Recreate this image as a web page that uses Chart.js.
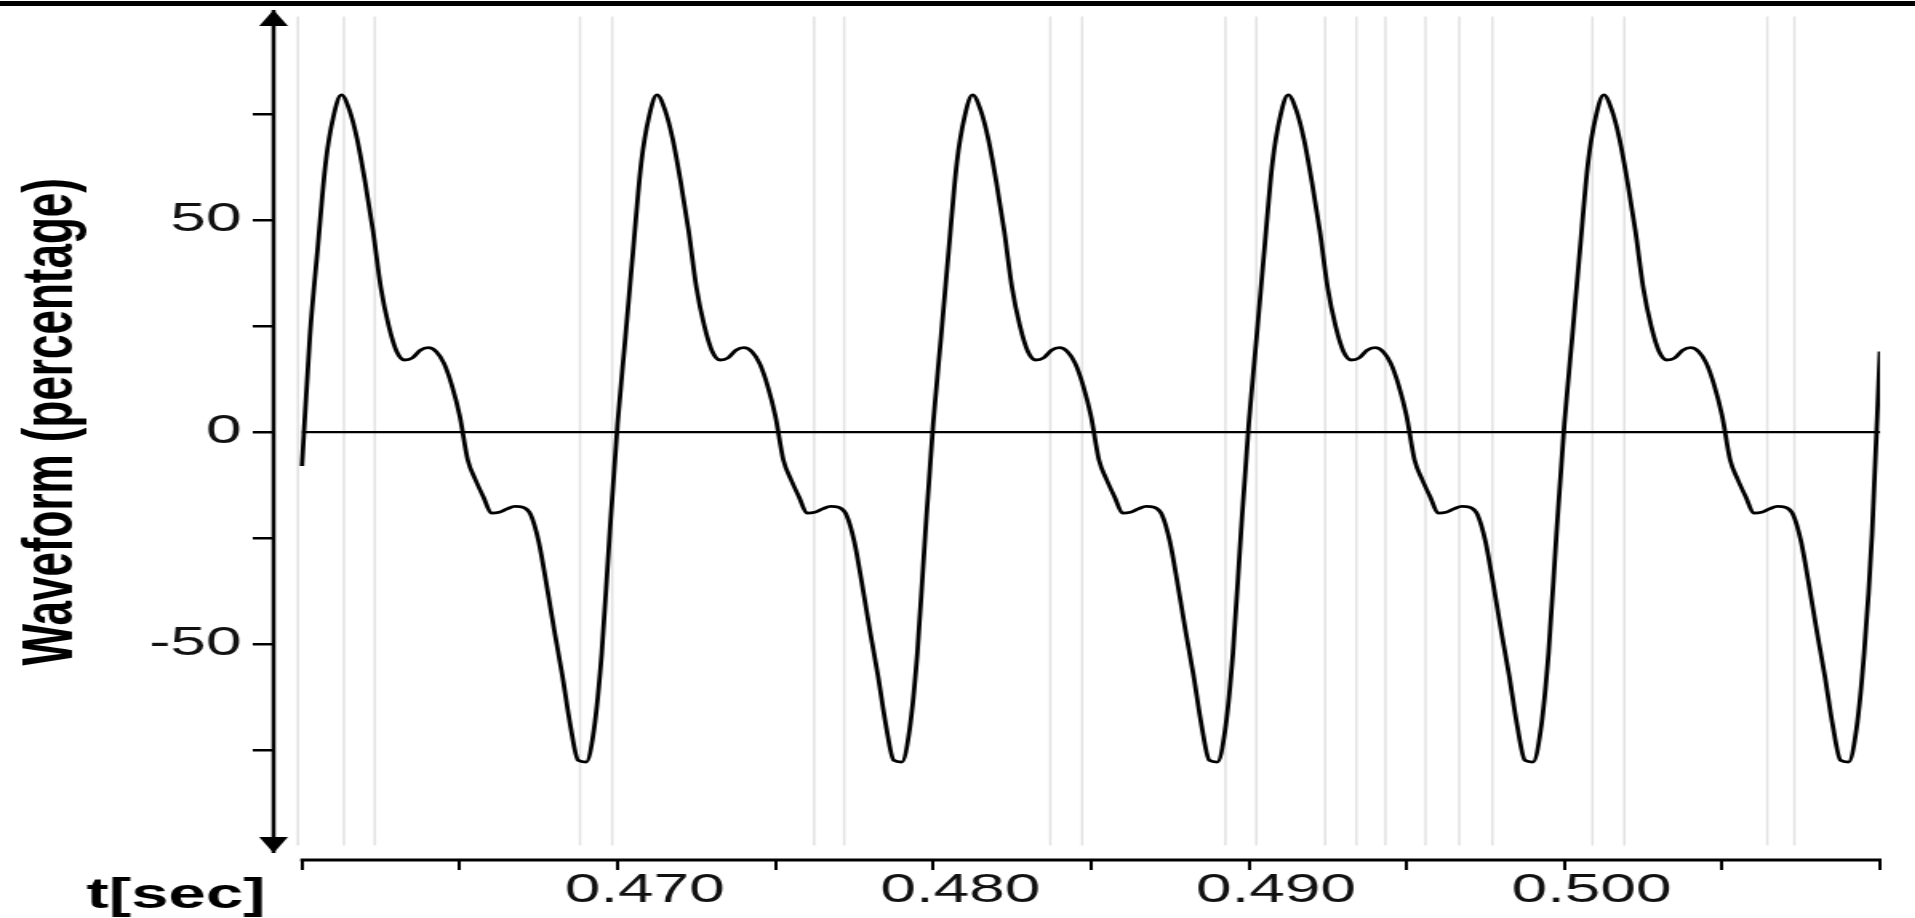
<!DOCTYPE html>
<html>
<head>
<meta charset="utf-8">
<title>Waveform (percentage)</title>
<script src="https://cdn.jsdelivr.net/npm/chart.js@4.4.1/dist/chart.umd.min.js"></script>
<style>
    html, body { margin: 0; padding: 0; background: #fff; overflow: hidden; }
    #frame { position: relative; width: 1915px; height: 918px; }
    #topline { position: absolute; left: 0; top: 1px; width: 1915px; height: 5px; background: #000; }
    /* the original picture is stretched sideways, so the chart is drawn narrow and widened */
    #chart { position: absolute; left: 0; top: 0; width: 1197px; height: 918px;
             transform-origin: 0 0; transform: scaleX(1.6); }
</style>
</head>
<body>
<div id="frame">
    <canvas id="chart" width="1197" height="918"></canvas>
    <div id="topline"></div>
</div>
<script>
// sampling of the waveform, seconds
const startTime = 0.460;
const sampleStep = 0.00025;

// one row per 10 ms cycle (percent)
const cycle1 = [-8, 22.5, 43.5, 63.5, 74.5, 79.5, 76, 69, 59, 47.5, 34, 25, 19, 17, 17.5, 19.3, 19.9, 19, 16.2, 11,
    3.8, -6.5, -11.3, -15.3, -19.1, -18.9, -18.1, -17.5, -17.7, -19.5, -25.8, -36, -47, -57.4, -69, -77.4, -77.8, -70.3, -52, -24];
const cycle2 = [2, 22.5, 43.5, 63.5, 74.5, 79.5, 76, 69, 59, 47.5, 34, 25, 19, 17, 17.5, 19.3, 19.9, 19, 16.2, 11,
    3.8, -6.5, -11.3, -15.3, -19.1, -18.9, -18.1, -17.5, -17.7, -19.5, -25.8, -36, -47, -57.4, -69, -77.4, -77.8, -70.3, -52, -24];
const cycle3 = [2, 22.5, 43.5, 63.5, 74.5, 79.5, 76, 69, 59, 47.5, 34, 25, 19, 17, 17.5, 19.3, 19.9, 19, 16.2, 11,
    3.8, -6.5, -11.3, -15.3, -19.1, -18.9, -18.1, -17.5, -17.7, -19.5, -25.8, -36, -47, -57.4, -69, -77.4, -77.8, -70.3, -52, -24];
const cycle4 = [2, 22.5, 43.5, 63.5, 74.5, 79.5, 76, 69, 59, 47.5, 34, 25, 19, 17, 17.5, 19.3, 19.9, 19, 16.2, 11,
    3.8, -6.5, -11.3, -15.3, -19.1, -18.9, -18.1, -17.5, -17.7, -19.5, -25.8, -36, -47, -57.4, -69, -77.4, -77.8, -70.3, -52, -24];
const cycle5 = [2, 22.5, 43.5, 63.5, 74.5, 79.5, 76, 69, 59, 47.5, 34, 25, 19, 17, 17.5, 19.3, 19.9, 19, 16.2, 11,
    3.8, -6.5, -11.3, -15.3, -19.1, -18.9, -18.1, -17.5, -17.7, -19.5, -25.8, -36, -47, -57.4, -69, -77.4, -77.8, -70.3, -52, -24];
const lastValue = [19];

const xTickValues = [0.460, 0.465, 0.470, 0.475, 0.480, 0.485, 0.490, 0.495, 0.500, 0.505, 0.510];
const xTickLabels = ['', '', '0.470', '', '0.480', '', '0.490', '', '0.500', '', ''];
const yTickValues = [-75, -50, -25, 0, 25, 50, 75];
const yTickLabels = ['', '-50', '', '0', '', '50', ''];

// faint grey box edges seen behind the trace (seconds)
const boxEdgeTimes = [0.45987, 0.46133, 0.46231, 0.46881, 0.46983, 0.47623, 0.47718, 0.48371, 0.48472,
    0.48926, 0.49024, 0.49242, 0.49341, 0.49433, 0.49560, 0.49667, 0.49772, 0.50089, 0.50190, 0.50643, 0.50729];

const fontFamily = '"Liberation Sans", Arial, sans-serif';

let wave = [];
[cycle1, cycle2, cycle3, cycle4, cycle5, lastValue].flat().forEach((v, i) => {
    wave.push({ x: +(startTime + i * sampleStep).toFixed(5), y: v });
});

let edges = [];
boxEdgeTimes.forEach(t => {
    edges.push({ x: t, y: 98 }, { x: t, y: -97.5 }, { x: t, y: null });
});

const zeroLine = [{ x: xTickValues[0], y: 0 }, { x: xTickValues[xTickValues.length - 1], y: 0 }];

// axis lines with arrow heads and the "t[sec]" label
const axisDecor = {
    id: 'axisDecor',
    afterDraw(chart) {
        const { ctx, chartArea, scales } = chart;
        const ax = chartArea.left;
        const top = chartArea.top + 2;
        const bot = chartArea.bottom - 7;
        ctx.save();
        ctx.strokeStyle = '#000';
        ctx.fillStyle = '#000';

        ctx.lineWidth = 2.5;
        ctx.beginPath();
        ctx.moveTo(ax, top);
        ctx.lineTo(ax, bot);
        ctx.stroke();

        ctx.beginPath();
        ctx.moveTo(ax, top);
        ctx.lineTo(ax - 9, top + 16);
        ctx.lineTo(ax + 9, top + 16);
        ctx.closePath();
        ctx.fill();

        ctx.beginPath();
        ctx.moveTo(ax, bot);
        ctx.lineTo(ax - 9, bot - 16);
        ctx.lineTo(ax + 9, bot - 16);
        ctx.closePath();
        ctx.fill();

        ctx.lineWidth = 3;
        ctx.beginPath();
        ctx.moveTo(scales.x.getPixelForValue(xTickValues[0]) - 1, chartArea.bottom);
        ctx.lineTo(scales.x.getPixelForValue(xTickValues[xTickValues.length - 1]) + 1, chartArea.bottom);
        ctx.stroke();

        ctx.font = 'bold 42px ' + fontFamily;
        ctx.textBaseline = 'alphabetic';
        ctx.textAlign = 'left';
        ctx.fillText('t[sec]', ax - 117, chartArea.bottom + 48);
        ctx.restore();
    }
};

new Chart(document.getElementById('chart').getContext('2d'), {
    type: 'line',
    data: {
        datasets: [
            {
                label: 'Waveform',
                data: wave,
                borderColor: '#000',
                borderWidth: 2.8,
                pointRadius: 0,
                cubicInterpolationMode: 'monotone'
            },
            {
                label: 'zero',
                data: zeroLine,
                borderColor: '#000',
                borderWidth: 2.2,
                pointRadius: 0
            },
            {
                label: 'boxes',
                data: edges,
                borderColor: '#e2e2e2',
                borderWidth: 1.5,
                pointRadius: 0,
                spanGaps: false
            }
        ]
    },
    options: {
        responsive: false,
        animation: false,
        events: [],
        layout: { padding: { top: 8, right: 22, left: 0, bottom: 0 } },
        plugins: {
            legend: { display: false },
            tooltip: { enabled: false }
        },
        scales: {
            x: {
                type: 'linear',
                min: 0.4591,
                max: 0.510,
                afterBuildTicks: s => { s.ticks = xTickValues.map(v => ({ value: v })); },
                afterFit: s => { s.height = 58; },
                border: { display: false },
                grid: { drawOnChartArea: false, drawTicks: true, tickLength: 10, color: '#000', lineWidth: 2 },
                ticks: {
                    autoSkip: false,
                    maxRotation: 0,
                    padding: 1,
                    labelOffset: 17,
                    color: '#111',
                    font: { family: fontFamily, size: 40, lineHeight: 1 },
                    callback: (v, i) => xTickLabels[i]
                }
            },
            y: {
                min: -100.9,
                max: 100,
                afterBuildTicks: s => { s.ticks = yTickValues.map(v => ({ value: v })); },
                afterFit: s => {
                    s.width = 171;
                    s.paddingTop = 0;
                    s.paddingBottom = 0;
                },
                border: { display: false },
                grid: { drawOnChartArea: false, drawTicks: true, tickLength: 13, color: '#000', lineWidth: 2.5 },
                ticks: {
                    padding: 7,
                    color: '#111',
                    font: { family: fontFamily, size: 40 },
                    callback: (v, i) => yTickLabels[i]
                },
                title: {
                    display: true,
                    text: '  Waveform (percentage)',
                    color: '#000',
                    padding: { top: 6, bottom: 0 },
                    font: { family: fontFamily, size: 44, weight: 'bold', lineHeight: 1.2 }
                }
            }
        }
    },
    plugins: [axisDecor]
});
</script>
</body>
</html>
